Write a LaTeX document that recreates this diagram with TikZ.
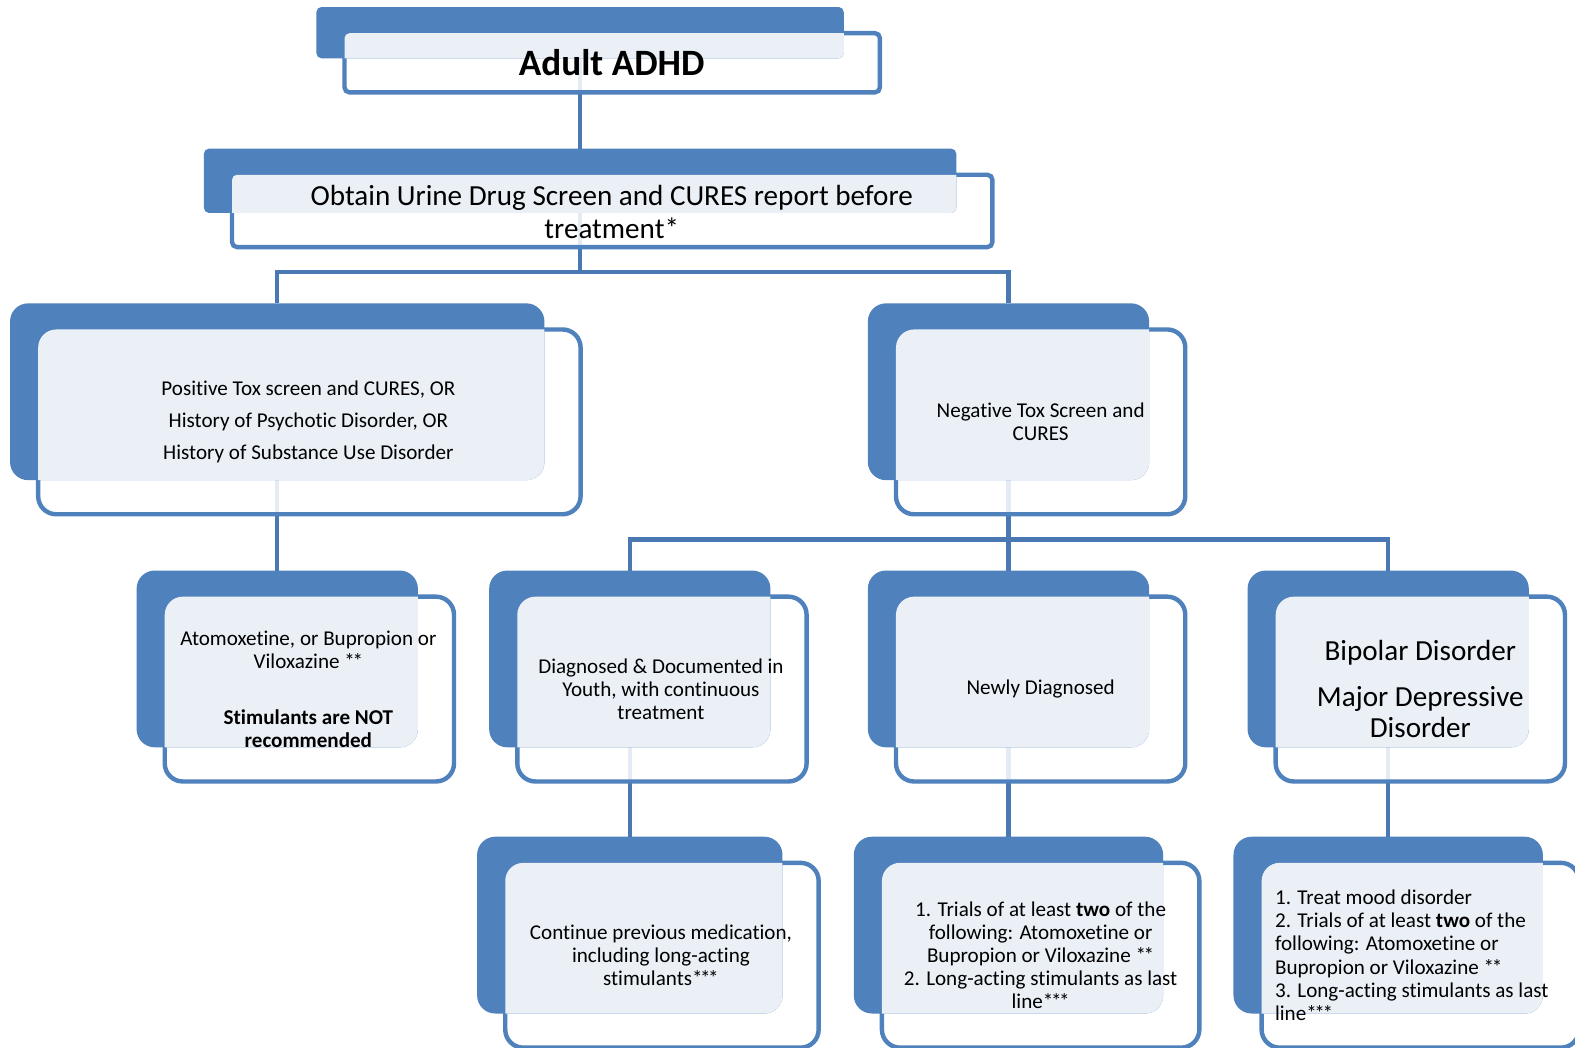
\documentclass[tikz,border=0pt]{standalone}
\usepackage{fontspec}
\setmainfont{Carlito}[Ligatures=NoCommon]
\pgfdeclarelayer{bg}
\pgfsetlayers{bg,main}
\definecolor{boxblue}{HTML}{4F81BD}
\definecolor{lineblue}{HTML}{4A78B2}
\definecolor{lightbg}{HTML}{EBF0F7}
\tikzset{
  backbox/.style={fill=boxblue, inner sep=0pt, outer sep=0pt},
  frontbox/.style={draw=boxblue, line width=2.2pt, fill=white, fill opacity=0.86, draw opacity=1},
  conn/.style={draw=lineblue, line width=2.2pt},
  txt/.style={inner sep=0pt, align=center, text=black},
}
\newcommand\fA{\fontsize{18.5}{22}\selectfont\bfseries}
\newcommand\fB{\fontsize{14.5}{16}\selectfont}
\newcommand\fC{\fontsize{10.5}{11.5}\selectfont}
\newcommand\twoast{*\kern-1.2pt*}
\newcommand\threeast{*\kern-1.2pt*\kern-1.2pt*}
\newcommand\layeredbox[6]{%
  \pgfmathsetmacro\lbw{(#4-#2)*0.5}%
  \pgfmathsetmacro\lbh{(#5-#3)*0.5}%
  \path[frontbox, rounded corners=#6] (#2+28,#3+26) rectangle (#4+36,#5+34);
  \node[backbox, rounded corners=#6, minimum width=\lbw pt, minimum height=\lbh pt] (#1) at ({(#2+#4)/2},{(#3+#5)/2}) {};
  \begin{scope}
    \clip[rounded corners=#6] (#1.south west) rectangle (#1.north east);
    \fill[lightbg, rounded corners=#6] (#2+28,#3+26) rectangle (#4+36,#5+34);
  \end{scope}
}
\begin{document}
\begin{tikzpicture}[x=0.5pt,y=-0.5pt]
\useasboundingbox (0,0) rectangle (1568,1043);

\layeredbox{n1}{315}{7}{840}{58}{2.5pt}
\layeredbox{n2}{203}{148}{952}{212}{2.5pt}
\layeredbox{n3}{10}{302}{542}{478}{9pt}
\layeredbox{n4}{864}{302}{1144}{478}{9pt}
\layeredbox{n5}{136}{568}{416}{744}{9pt}
\layeredbox{n6}{487}{568}{767}{744}{9pt}
\layeredbox{n7}{864}{568}{1144}{744}{9pt}
\layeredbox{n8}{1242}{568}{1522}{744}{9pt}
\layeredbox{n9}{475}{833}{779}{1009}{9pt}
\layeredbox{n10}{850}{833}{1158}{1009}{9pt}
\layeredbox{n11}{1228}{833}{1536}{1009}{9pt}

\node[txt, font=\fA] (t1) at (609,62) {Adult ADHD};
\node[txt, font=\fB] (t2) at (609,211) {Obtain Urine Drug Screen and CURES report before\\treatment*};
\node[txt, font=\fontsize{10.5}{16}\selectfont] (t3) at (307,420) {Positive Tox screen and CURES, OR\\History of Psychotic Disorder, OR\\History of Substance Use Disorder};
\node[txt, font=\fC] (t4) at (1036,420) {Negative Tox Screen and\\CURES};
\node[txt, font=\fC] (t5) at (307,686) {Atomoxetine, or Bupropion or\\Viloxazine \twoast\\[16.5pt]\textbf{Stimulants are NOT}\\\textbf{recommended}};
\node[txt, font=\fC] (t6) at (658,686) {Diagnosed \& Documented in\\Youth, with continuous\\treatment};
\node[txt, font=\fC] (t7) at (1036,686) {Newly Diagnosed};
\node[txt, font=\fontsize{14.5}{15.5}\selectfont] (t8) at (1414,686) {Bipolar Disorder\\[7pt]Major Depressive\\Disorder};
\node[txt, font=\fC] (t9) at (658,951) {Continue previous medication,\\including long-acting\\stimulants\threeast};
\node[txt, font=\fC] (t10) at (1036,951) {1. Trials of at least \textbf{two} of the\\following: Atomoxetine or\\Bupropion or Viloxazine \twoast\\2. Long-acting stimulants as last\\line\threeast};
\node[txt, font=\fC, align=left, anchor=west] (t11) at (1269,951) {1. Treat mood disorder\\2. Trials of at least \textbf{two} of the\\following: Atomoxetine or\\Bupropion or Viloxazine \twoast\\3. Long-acting stimulants as last\\line\threeast};

\begin{pgfonlayer}{bg}
  \fill[white] (0,0) rectangle (1568,1043);
  \coordinate (j2) at (577.5,271);
  \coordinate (j4) at (1004,537);
  \draw[conn] (n1.center) -- (n2.north);
  \draw[conn] (n2.center) -- (j2);
  \draw[conn] (n3.north) |- (j2) -| (n4.north);
  \draw[conn] (n3.center) -- (n5.north);
  \draw[conn] (n4.center) -- (j4);
  \draw[conn] (n6.north) |- (j4) -| (n8.north);
  \draw[conn] (j4) -- (n7.north);
  \draw[conn] (n6.center) -- (n9.north);
  \draw[conn] (n7.center) -- (n10.north);
  \draw[conn] (n8.center) -- (n11.north);
\end{pgfonlayer}
\end{tikzpicture}
\end{document}
